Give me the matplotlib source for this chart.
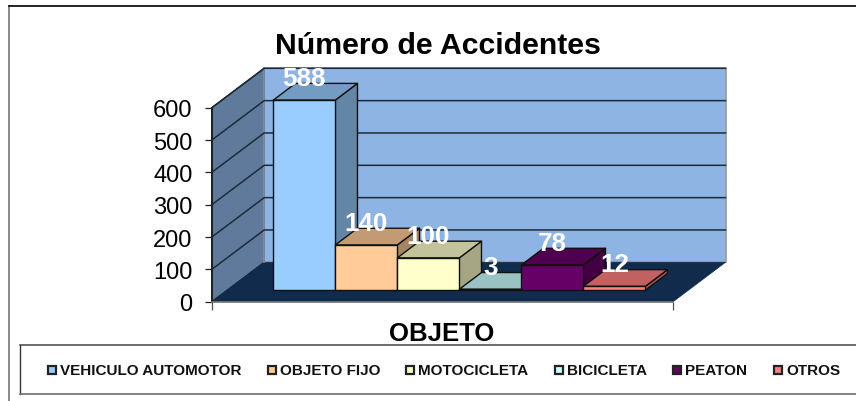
import matplotlib
matplotlib.use('Agg')
from matplotlib import pyplot as plt
from matplotlib.lines import Line2D
from matplotlib.patches import Polygon, Rectangle

plt.rcParams['font.family'] = ['Liberation Sans', 'DejaVu Sans']

categorias = ['VEHICULO AUTOMOTOR', 'OBJETO FIJO', 'MOTOCICLETA', 'BICICLETA', 'PEATON', 'OTROS']
valores = [588, 140, 100, 3, 78, 12]
colores = ['#99CCFF', '#FFCC99', '#FFFFCC', '#CCFFFF', '#660066', '#FF8080']
ticks_y = [0, 100, 200, 300, 400, 500, 600]

# posicion de la leyenda en pixeles
leyenda_x = [48, 268, 406, 555, 673, 774]

W, H = 856, 402
fig = plt.figure(figsize=(W / 100, H / 100), dpi=100)
ax = fig.add_axes([211.7 / W, (H - 302.8) / H, 461.3 / W, 194 / H])
ax.patch.set_visible(False)
ax.set_ylim(0, 600)
ax.set_xlim(-1.245, 6.195)

# profundidad: una unidad de d son 52.5 px a la derecha y 39.5 px arriba
DX = 52.5 / 62
DV = 39.5 / (194 / 600)
D0, D1 = 0.294, 0.716
ANCHO = 1.0


def p(x, v, d):
    return (x + d * DX, v + d * DV)


def sombra(color, f):
    r, g, b = matplotlib.colors.to_rgb(color)
    return (r * f, g * f, b * f)


def cara(puntos, color, ec='#111111', lw=1.0, z=1):
    ax.add_patch(Polygon(puntos, closed=True, fc=color, ec=ec, lw=lw, clip_on=False, zorder=z, joinstyle='round'))


x0, x1 = ax.get_xlim()

# paredes y piso
cara([p(x0, 0, 1), p(x1, 0, 1), p(x1, 600, 1), p(x0, 600, 1)], '#8DB4E2', ec='#999999', lw=1.2)
cara([p(x0, 0, 0), p(x0, 0, 1), p(x0, 600, 1), p(x0, 600, 0)], '#5F7A9A', ec='#222222', lw=1.0)
cara([p(x0, 0, 0), p(x1, 0, 0), p(x1, 0, 1), p(x0, 0, 1)], '#112B4C', ec='#112B4C', lw=0.5)
ax.plot([p(x0, 0, 1)[0]] * 2, [p(x0, 0, 1)[1], p(x0, 600, 1)[1]], color='#8A97A8', lw=1.2, clip_on=False, zorder=1.2)

for t in ticks_y[1:]:
    a, b = p(x0, t, 0), p(x0, t, 1)
    c = p(x1, t, 1)
    ax.plot([a[0], b[0], c[0]], [a[1], b[1], c[1]], color='#1F2A3A', lw=1.1, clip_on=False, zorder=1.5)

# barras, de izquierda a derecha
for i, v in enumerate(valores):
    izq, der = i - ANCHO / 2, i + ANCHO / 2
    col = colores[i]
    cara([p(der, 0, D0), p(der, 0, D1), p(der, v, D1), p(der, v, D0)], sombra(col, 0.65), z=2)
    cara([p(izq, v, D0), p(der, v, D0), p(der, v, D1), p(izq, v, D1)], sombra(col, 0.76), z=2)
    cara([p(izq, 0, D0), p(der, 0, D0), p(der, v, D0), p(izq, v, D0)], col, z=2)

for i, v in enumerate(valores):
    cx, cy = p(i, v, D0)
    ax.annotate(str(v), (cx, cy), xytext=(0, 22 * 0.72), textcoords='offset points', ha='center', va='center',
                color='white', fontweight='bold', fontsize=18.7, zorder=5, annotation_clip=False)

# ejes
ax.set_yticks(ticks_y)
ax.set_xticks([x0, x1])
ax.set_xticklabels(['', ''])
ax.tick_params(axis='y', labelsize=17, length=4.8, width=0.9, color='#222222', pad=9)
ax.tick_params(axis='x', length=5.5, width=0.9, color='#555555')
ax.spines['top'].set_visible(False)
ax.spines['right'].set_visible(False)
ax.spines['left'].set_color('#222222')
ax.spines['bottom'].set_color('#777777')
ax.spines['bottom'].set_linewidth(1.2)

fig.text(438 / W, 1 - 46.5 / H, 'Número de Accidentes', ha='center', va='center', fontsize=21.8, fontweight='bold')
fig.text(442 / W, 1 - 334 / H, 'OBJETO', ha='center', va='center', fontsize=18.5, fontweight='bold')

# marco exterior
fig.add_artist(Line2D([9 / W, 9 / W], [0, 1 - 7.3 / H], color='#777777', lw=1.2))
fig.add_artist(Line2D([9 / W, 1], [1 - 7.3 / H, 1 - 7.3 / H], color='black', lw=1.2))

# leyenda
fig.add_artist(Line2D([20 / W, 20 / W], [1 - 394.5 / H, 1 - 345.7 / H], color='#333333', lw=1.0))
fig.add_artist(Line2D([20 / W, 1], [1 - 345.7 / H, 1 - 345.7 / H], color='#444444', lw=1.1))
fig.add_artist(Line2D([20 / W, 1], [1 - 394.5 / H, 1 - 394.5 / H], color='#777777', lw=1.3))
for nombre, col, lx in zip(categorias, colores, leyenda_x):
    fig.add_artist(Rectangle((lx / W, 1 - 374.5 / H), 8 / W, 8 / H, transform=fig.transFigure, fc=col, ec='#222222', lw=1.6))
    fig.text((lx + 12) / W, 1 - 371 / H, nombre, ha='left', va='center', fontsize=11, fontweight='bold', color='#111111')

fig.savefig('out.png', dpi=100)
